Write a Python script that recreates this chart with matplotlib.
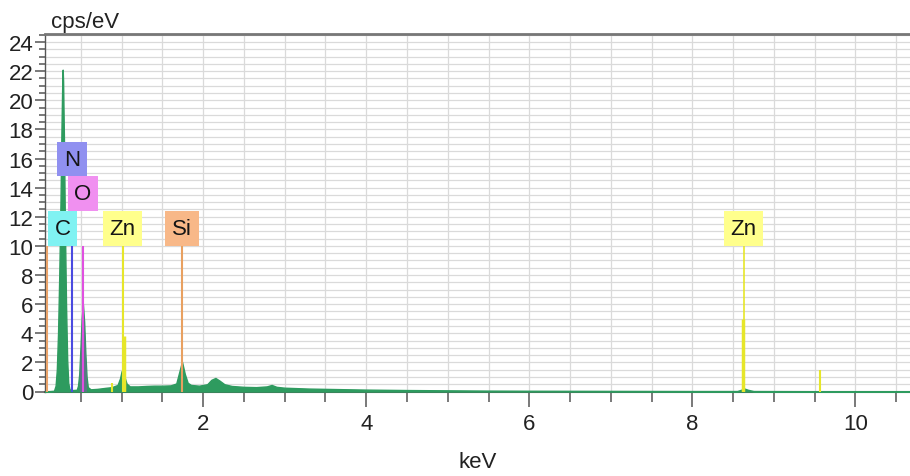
import numpy as np
import matplotlib
matplotlib.use("Agg")
import matplotlib.pyplot as plt
from matplotlib.ticker import MultipleLocator

plt.rcParams['font.family'] = ['Liberation Sans', 'DejaVu Sans']

# EDS spectrum, energy (keV) vs counts (cps/eV)
energy = [0.06, 0.17, 0.19, 0.205, 0.22, 0.235, 0.25, 0.262, 0.272, 0.277, 0.282,
          0.292, 0.304, 0.318, 0.332, 0.345, 0.36, 0.40, 0.45, 0.465, 0.48,
          0.495, 0.51, 0.525, 0.54, 0.555, 0.57, 0.585, 0.62, 0.70, 0.80,
          0.88, 0.95, 0.98, 1.00, 1.015, 1.035, 1.06, 1.10, 1.20, 1.30,
          1.40, 1.50, 1.60, 1.67, 1.705, 1.74, 1.775, 1.81, 1.85, 1.95,
          2.05, 2.10, 2.15, 2.20, 2.26, 2.35, 2.50, 2.65, 2.78, 2.84,
          2.90, 3.00, 3.30, 3.60, 4.00, 4.50, 5.00, 5.50, 6.00, 7.00,
          8.00, 8.55, 8.60, 8.64, 8.68, 8.75, 9.50, 10.67]
counts = [0.0, 0.05, 0.4, 1.5, 4.0, 8.0, 13.0, 18.0, 21.3, 22.1, 21.3,
          17.5, 11.5, 6.0, 2.2, 0.6, 0.15, 0.10, 0.12, 0.4, 1.2,
          3.0, 5.0, 6.0, 4.8, 2.6, 1.0, 0.3, 0.15, 0.18, 0.25,
          0.30, 0.45, 0.9, 1.4, 1.45, 1.0, 0.55, 0.35, 0.35, 0.38,
          0.40, 0.40, 0.42, 0.55, 1.3, 2.05, 1.2, 0.6, 0.45, 0.40,
          0.50, 0.8, 0.93, 0.75, 0.5, 0.38, 0.32, 0.30, 0.35, 0.45,
          0.32, 0.26, 0.20, 0.17, 0.13, 0.10, 0.08, 0.06, 0.05, 0.04,
          0.03, 0.03, 0.12, 0.20, 0.12, 0.03, 0.02, 0.02]

# element marker lines: (energy keV, height, colour)
line_energy = [0.08, 0.277, 0.392, 0.525, 0.884, 1.012, 1.034, 1.740, 8.616, 8.630, 9.572]
line_height = [10, 10, 10, 10, 0.6, 10, 3.8, 10, 5.0, 10, 1.5]
line_color = ['#eaa36a', '#6fe8e8', '#4a4ae0', '#e050e0', '#e6e62a', '#e6e62a',
              '#e6e62a', '#e8a060', '#e6e62a', '#e6e62a', '#e6e62a']
line_width = [1.5, 1.5, 1.5, 1.5, 1.5, 1.5, 2.5, 1.5, 2.5, 1.2, 1.5]

# element labels: text, energy, base height, box colour
label_text = ['C', 'N', 'O', 'Zn', 'Si', 'Zn']
label_energy = [0.277, 0.392, 0.525, 1.012, 1.740, 8.630]
label_base = [10.0, 14.75, 12.4, 10.0, 10.0, 10.0]
label_color = ['#80f2f2', '#9090f0', '#f090f0', '#ffff8c', '#f8b888', '#ffff8c']

fig = plt.figure(figsize=(9.1, 4.77), dpi=100)
ax = fig.add_axes([45 / 910, 84.5 / 477, 1 - 45 / 910, 357.5 / 477])

green = '#2e9b5f'
e = np.array(energy)
c = np.array(counts)
ax.fill_between(e, 0, c, color=green, lw=1.0, edgecolor=green, zorder=3)
# oxygen peak tinted by its marker
ax.fill_between(e, 0, c, where=(e >= 0.48) & (e <= 0.57), color='#8a4fb0',
                alpha=0.45, lw=0, zorder=3.5)

for le, lh, lc, lw in zip(line_energy, line_height, line_color, line_width):
    z = 2.5 if le == 0.277 else 4
    ax.plot([le, le], [0, lh], color=lc, lw=lw, zorder=z, solid_capstyle='butt')

for txt, le, lb, lc in zip(label_text, label_energy, label_base, label_color):
    ax.text(le, lb + 1.2, txt, ha='center', va='center', fontsize=16, color='#151515',
            zorder=5, bbox=dict(boxstyle='square,pad=0.3', fc=lc, ec='none'))

ax.set_xlim(0.06, 10.67)
ax.set_ylim(0, 24.55)
ax.xaxis.set_major_locator(MultipleLocator(2))
ax.xaxis.set_minor_locator(MultipleLocator(0.5))
ax.yaxis.set_major_locator(MultipleLocator(2))
ax.yaxis.set_minor_locator(MultipleLocator(0.5))
ax.grid(which='both', color='#dadada', lw=0.9, zorder=0)
ax.set_axisbelow(True)

ax.tick_params(axis='x', which='major', length=10.5, width=1.1, color='#555555',
               labelsize=16, pad=5, labelcolor='#222222')
ax.tick_params(axis='x', which='minor', length=7, width=1.1, color='#555555')
ax.tick_params(axis='y', which='major', length=7, width=1.1, color='#555555',
               labelsize=16, pad=1.5, labelcolor='#222222')
ax.tick_params(axis='y', which='minor', length=4.5, width=1.1, color='#555555')

ax.spines['right'].set_visible(False)
ax.spines['top'].set_color('#777777')
ax.spines['top'].set_linewidth(2)
ax.spines['bottom'].set_color('#555555')
ax.spines['bottom'].set_linewidth(1.5)
ax.spines['left'].set_color('#555555')
ax.spines['left'].set_linewidth(1.0)

ax.set_xlabel('keV', fontsize=16, color='#222222', labelpad=12)
fig.text(51 / 910, 1 - 28 / 477, 'cps/eV', fontsize=16, color='#222222',
         ha='left', va='baseline')

fig.savefig('out.png', dpi=100)
